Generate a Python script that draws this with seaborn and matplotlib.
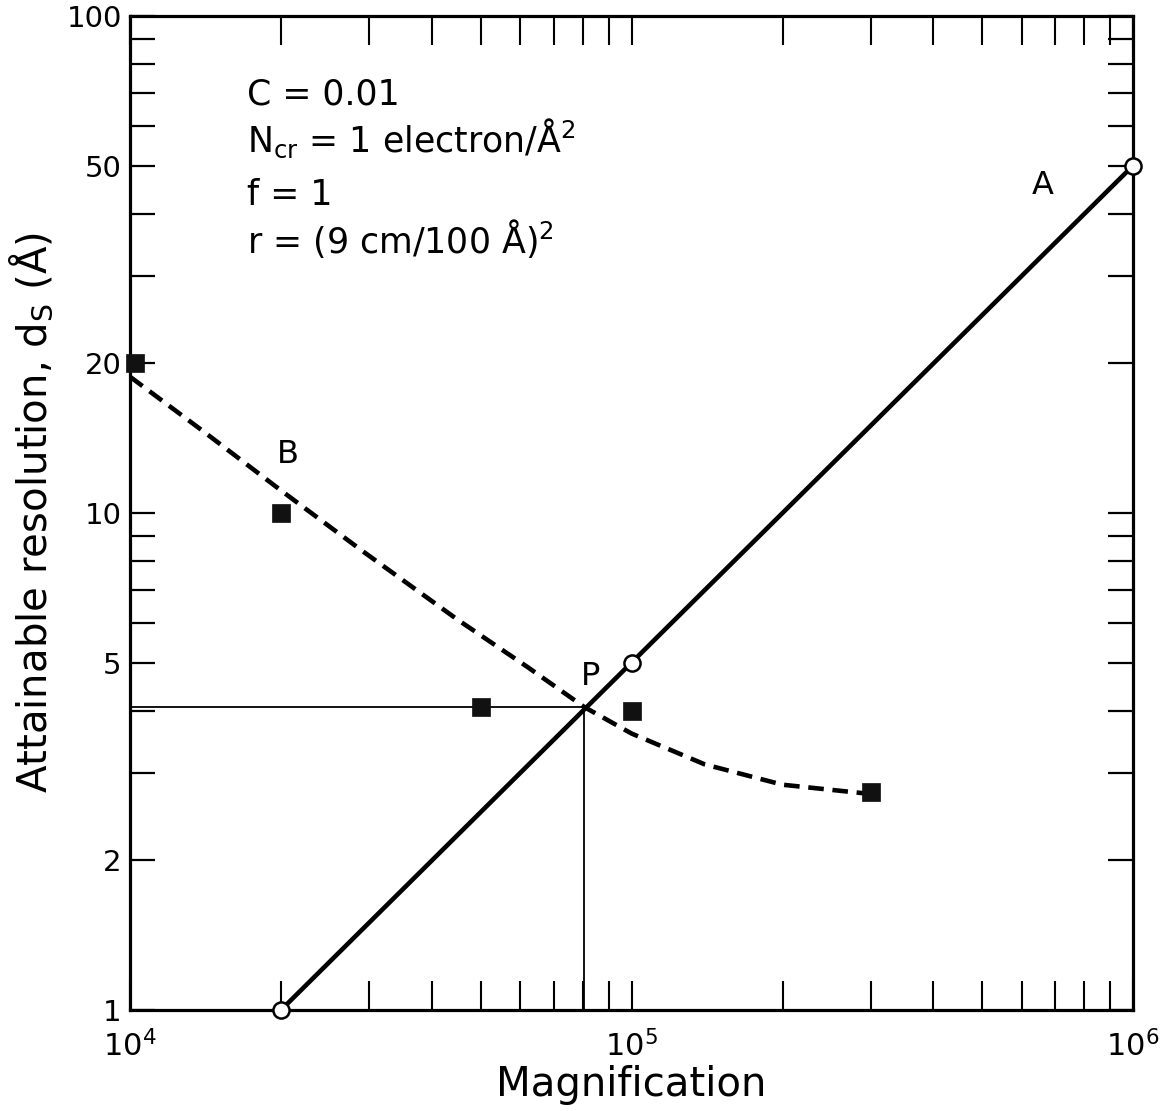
import numpy as np
import pandas as pd
import seaborn as sns
import matplotlib.pyplot as plt
from matplotlib.ticker import FixedLocator, FixedFormatter, LogLocator, NullFormatter

# line A (solid, open circles)
mag_a = [2e4, 1e5, 1e6]
res_a = [1.0, 5.0, 50.0]

# curve B (dashed)
mag_b = [1e4, 1.4e4, 2e4, 2.9e4, 4.5e4, 6.2e4, 8.05e4, 1e5, 1.4e5, 2e5, 3e5]
res_b = [18.8, 14.6, 11.1, 8.4, 6.1, 4.9, 4.07, 3.6, 3.12, 2.84, 2.72]

# filled squares
mag_sq = [1.025e4, 2e4, 5e4, 1e5, 3e5]
res_sq = [20, 10, 4.07, 4.0, 2.75]

# crossing point P
p_mag, p_res = 8.05e4, 4.07

y_ticks = [1, 2, 5, 10, 20, 50, 100]
y_labels = ['1', '2', '5', '10', '20', '50', '100']

df_a = pd.DataFrame({'mag': mag_a, 'res': res_a})
df_b = pd.DataFrame({'mag': mag_b, 'res': res_b})
df_sq = pd.DataFrame({'mag': mag_sq, 'res': res_sq})

sns.set_style('ticks')
plt.rcParams['font.family'] = ['DejaVu Sans']
plt.rcParams['mathtext.fontset'] = 'dejavusans'
plt.rcParams['text.color'] = 'black'
plt.rcParams['axes.labelcolor'] = 'black'
plt.rcParams['axes.edgecolor'] = 'black'
plt.rcParams['xtick.color'] = 'black'
plt.rcParams['ytick.color'] = 'black'

fig = plt.figure(figsize=(11.62, 11.11), dpi=100)
ax = fig.add_axes([0.1119, 0.0909, 0.8632, 0.8947])
ax.set_xscale('log')
ax.set_yscale('log')

# crosshair through P
ax.plot([1e4, p_mag], [p_res, p_res], color='black', lw=1.3, zorder=1)
ax.plot([p_mag, p_mag], [1, p_res], color='black', lw=1.3, zorder=1)

sns.lineplot(data=df_a, x='mag', y='res', ax=ax, color='black', lw=3.3,
             estimator=None, sort=False, zorder=2)
sns.lineplot(data=df_b, x='mag', y='res', ax=ax, color='black', lw=3.3,
             linestyle=(0, (3.4, 1.9)), estimator=None, sort=False, zorder=2)

sns.scatterplot(data=df_sq, x='mag', y='res', ax=ax, marker='s', s=150,
                color='#111111', edgecolor='#111111', linewidth=0.5,
                zorder=4, clip_on=False)
sns.scatterplot(data=df_a, x='mag', y='res', ax=ax, marker='o', s=135,
                facecolor='white', edgecolor='black', linewidth=1.8,
                zorder=5, clip_on=False)

ax.set_xlim(1e4, 1e6)
ax.set_ylim(1, 100)

ax.yaxis.set_major_locator(FixedLocator(y_ticks))
ax.yaxis.set_major_formatter(FixedFormatter(y_labels))
ax.yaxis.set_minor_locator(LogLocator(base=10, subs=np.arange(2, 10)))
ax.yaxis.set_minor_formatter(NullFormatter())
ax.xaxis.set_minor_locator(LogLocator(base=10, subs=np.arange(2, 10)))
ax.xaxis.set_minor_formatter(NullFormatter())

ax.tick_params(axis='x', which='both', direction='in', top=True, bottom=True,
               length=21, width=1.5, labelsize=22, pad=14)
ax.tick_params(axis='y', which='both', direction='in', left=True, right=True,
               length=18, width=1.6, labelsize=21, pad=6)
for sp in ax.spines.values():
    sp.set_linewidth(2.3)

ax.set_xlabel('Magnification', fontsize=29, labelpad=2)
ax.set_ylabel('Attainable resolution, d$_{\\mathrm{S}}$ (Å)', fontsize=29, labelpad=8)

ax.text(6.6e5, 45.7, 'A', fontsize=23, ha='center', va='center')
ax.text(2.06e4, 13.1, 'B', fontsize=23, ha='center', va='center')
ax.text(8.27e4, 4.68, 'P', fontsize=23, ha='center', va='center')

params = ['C = 0.01',
          'N$_{\\mathrm{cr}}$ = 1 electron/Å$^2$',
          'f = 1',
          'r = (9 cm/100 Å)$^2$']
ys = [0.9105, 0.863, 0.810, 0.7616]
for t, yy in zip(params, ys):
    ax.text(0.117, yy, t, transform=ax.transAxes, fontsize=25,
            ha='left', va='baseline')

fig.savefig('out.png', dpi=100, facecolor='white')
